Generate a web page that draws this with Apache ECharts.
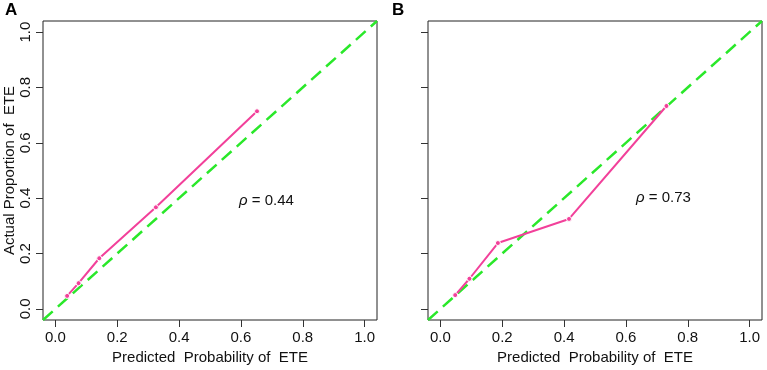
<!DOCTYPE html>
<html>
<head>
<meta charset="utf-8">
<script src="https://cdn.jsdelivr.net/npm/echarts@6/dist/echarts.min.js"></script>
<style>
  html, body { margin: 0; padding: 0; background: #fff; }
  #chart { width: 767px; height: 370px; }
</style>
</head>
<body>
<div id="chart"></div>
<script>
// calibration data
const predA = [0.038, 0.075, 0.142, 0.325, 0.652];
const actA = [0.047, 0.093, 0.183, 0.367, 0.714];
const predB = [0.048, 0.094, 0.186, 0.416, 0.731];
const actB = [0.050, 0.109, 0.238, 0.325, 0.733];
const tickValues = [0, 0.2, 0.4, 0.6, 0.8, 1.0];
const diagonal = [-0.04, 1.04];
const rhoA = "0.44";
const rhoB = "0.73";

const font = "Liberation Sans, Arial, sans-serif";
const pink = "#f2409a";
const green = "#2ae82a";

const chart = echarts.init(document.getElementById("chart"));

function xAxisOpt(idx) {
  return {
    gridIndex: idx,
    type: "value",
    min: -0.04,
    max: 1.04,
    name: "Predicted  Probability of  ETE",
    nameLocation: "middle",
    nameGap: 29,
    nameTextStyle: { fontFamily: font, fontSize: 15, color: "#111" },
    axisLine: { show: false, onZero: false },
    splitLine: { show: false },
    axisTick: {
      show: true,
      inside: false,
      length: 7,
      customValues: tickValues,
      lineStyle: { color: "#333", width: 1 },
    },
    axisLabel: {
      show: true,
      margin: 10,
      customValues: tickValues,
      formatter: (v) => v.toFixed(1),
      fontFamily: font,
      fontSize: 15,
      color: "#111",
    },
  };
}

function yAxisOpt(idx, withText) {
  return {
    gridIndex: idx,
    type: "value",
    min: -0.04,
    max: 1.04,
    name: withText ? "Actual Proportion of  ETE" : "",
    nameLocation: "middle",
    nameRotate: 90,
    nameGap: 26,
    nameTextStyle: { fontFamily: font, fontSize: 15, color: "#111" },
    axisLine: { show: false, onZero: false },
    splitLine: { show: false },
    axisTick: {
      show: true,
      inside: false,
      length: 7,
      customValues: tickValues,
      lineStyle: { color: "#333", width: 1 },
    },
    axisLabel: {
      show: withText,
      rotate: 90,
      margin: 10,
      customValues: tickValues,
      formatter: (v) => v.toFixed(1),
      fontFamily: font,
      fontSize: 15,
      color: "#111",
    },
  };
}

function diagSeries(idx) {
  return {
    type: "line",
    xAxisIndex: idx,
    yAxisIndex: idx,
    data: diagonal.map((v) => [v, v]),
    showSymbol: false,
    silent: true,
    z: 2,
    lineStyle: { color: green, width: 2.5, type: [13, 7] },
  };
}

function calSeries(idx, xs, ys) {
  return {
    type: "line",
    xAxisIndex: idx,
    yAxisIndex: idx,
    data: xs.map((x, i) => [x, ys[i]]),
    symbol: "circle",
    symbolSize: 5,
    z: 3,
    lineStyle: { color: pink, width: 2 },
    itemStyle: { color: pink, borderColor: "#fff", borderWidth: 1 },
  };
}

chart.setOption({
  backgroundColor: "#fff",
  animation: false,
  grid: [
    { left: 43, top: 21, width: 334, height: 299, show: true, borderColor: "#222", borderWidth: 1 },
    { left: 428, top: 21, width: 334, height: 299, show: true, borderColor: "#222", borderWidth: 1 },
  ],
  xAxis: [xAxisOpt(0), xAxisOpt(1)],
  yAxis: [yAxisOpt(0, true), yAxisOpt(1, false)],
  series: [
    diagSeries(0),
    calSeries(0, predA, actA),
    diagSeries(1),
    calSeries(1, predB, actB),
  ],
  graphic: [
    {
      type: "text",
      left: 5,
      top: 2,
      style: { text: "A", font: "bold 17px " + font, fill: "#000" },
    },
    {
      type: "text",
      left: 392,
      top: 2,
      style: { text: "B", font: "bold 17px " + font, fill: "#000" },
    },
    {
      type: "text",
      left: 239,
      top: 193,
      style: {
        text: "{i|ρ} = " + rhoA,
        fontFamily: font,
        fontSize: 15,
        fill: "#111",
        rich: { i: { fontStyle: "italic", fontFamily: font, fontSize: 15 } },
      },
    },
    {
      type: "text",
      left: 636,
      top: 190,
      style: {
        text: "{i|ρ} = " + rhoB,
        fontFamily: font,
        fontSize: 15,
        fill: "#111",
        rich: { i: { fontStyle: "italic", fontFamily: font, fontSize: 15 } },
      },
    },
  ],
});
</script>
</body>
</html>
